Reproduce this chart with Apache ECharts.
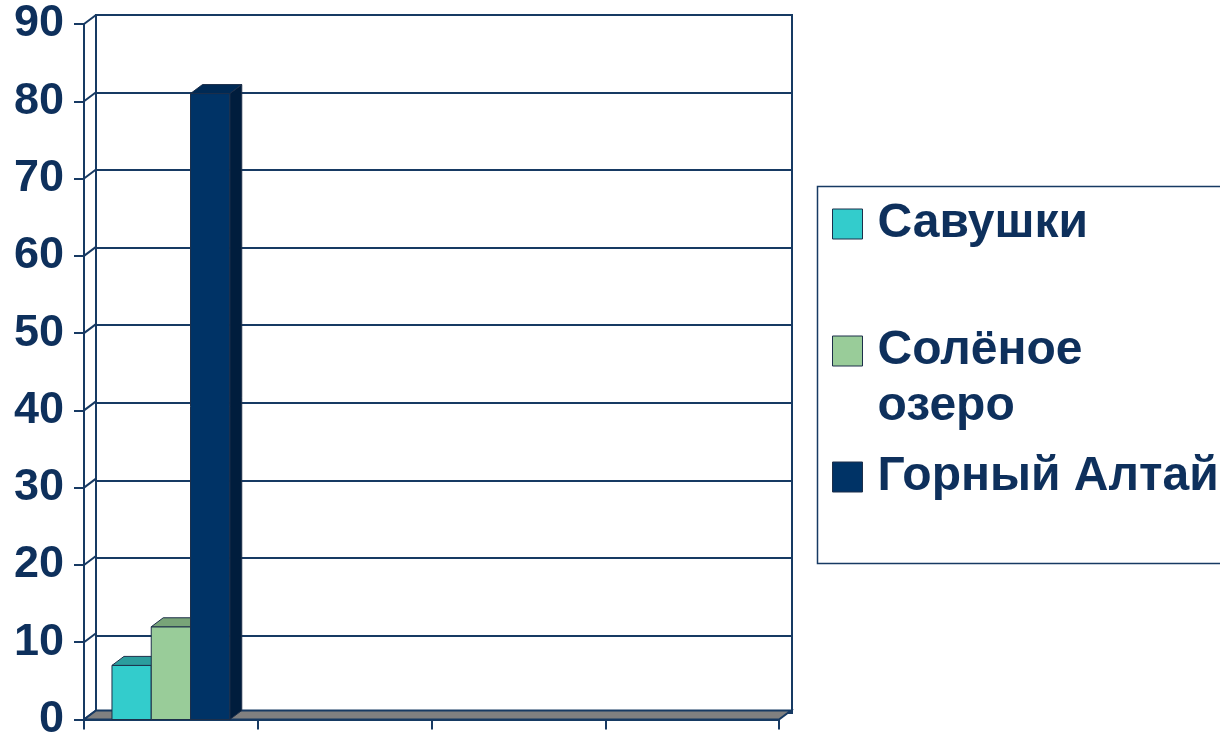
<!DOCTYPE html>
<html>
<head>
<meta charset="utf-8">
<script src="https://cdn.jsdelivr.net/npm/echarts@6/dist/echarts.min.js"></script>
<style>
html,body{margin:0;padding:0;background:#fff;}
#chart{width:1220px;height:742px;}
</style>
</head>
<body>
<div id="chart"></div>
<script>
// ---- data ----
const categories = ['1', '2', '3', '4'];
const seriesNames = ['Савушки', 'Солёное озеро', 'Горный Алтай'];
const savushkiValues = [7];
const solenoeValues = [12];
const gornyValues = [81];
const yTicks = [0, 10, 20, 30, 40, 50, 60, 70, 80, 90];

// ---- styles ----
const NAVY = '#173a63';
const TEXT = '#0e305c';
const EDGE = '#1d2f4a';
const DX = 12, DY = -9;       // depth offset of the walls
const BDX = 12, BDY = -9;     // depth offset of the bars
const BAR_FRAC = 0.226;
const COLORS = [
  { front: '#33cccc', top: '#2b9d9d', side: '#229090' },
  { front: '#99cc99', top: '#78a478', side: '#6a966a' },
  { front: '#003366', top: '#002a55', side: '#001d3d' }
];

function barRender(sIdx) {
  return function (params, api) {
    const cat = api.value(0), val = api.value(1);
    if (val == null || isNaN(val)) return null;
    const band = api.size([1, 0])[0];
    const w = band * BAR_FRAC;
    const p = api.coord([cat, val]);
    const b = api.coord([cat, 0]);
    const x = p[0] + (sIdx - 1) * w - w / 2;
    const top = p[1], base = b[1];
    const c = COLORS[sIdx];
    return {
      type: 'group',
      children: [
        { type: 'polygon', shape: { points: [[x + w, top], [x + w + BDX, top + BDY], [x + w + BDX, base + BDY], [x + w, base]] },
          style: { fill: c.side, stroke: EDGE, lineWidth: 1 } },
        { type: 'rect', shape: { x: x, y: top, width: w, height: base - top },
          style: { fill: c.front, stroke: EDGE, lineWidth: 1 } },
        { type: 'polygon', shape: { points: [[x, top], [x + w, top], [x + w + BDX, top + BDY], [x + BDX, top + BDY]] },
          style: { fill: c.top, stroke: EDGE, lineWidth: 1 } }
      ]
    };
  };
}

const valueLists = [savushkiValues, solenoeValues, gornyValues];
const barSeries = seriesNames.map(function (name, i) {
  return {
    type: 'custom',
    name: name,
    xAxisIndex: 0, yAxisIndex: 0,
    z: 5,
    itemStyle: { color: COLORS[i].front, borderColor: EDGE, borderWidth: 1 },
    renderItem: barRender(i),
    data: valueLists[i].map(function (v, k) { return [k, v]; })
  };
});

const legendFont = { fontFamily: 'Liberation Sans, Arial, sans-serif', fontWeight: 'bold', fontSize: 48, color: TEXT, lineHeight: 56, padding: [0, 0, 0, 10] };
function legendAt(idx, top, formatter) {
  const l = { data: [seriesNames[idx]], orient: 'vertical', left: 832, top: top, padding: 0,
    icon: 'rect', itemWidth: 30, itemHeight: 30,
    itemStyle: { borderColor: EDGE, borderWidth: 1 },
    textStyle: legendFont };
  if (formatter) l.formatter = formatter;
  return l;
}

const option = {
  animation: false,
  backgroundColor: '#ffffff',
  grid: [
    { left: 84, top: 24, width: 695, height: 698 },
    { left: 96, top: 15, width: 696, height: 698, show: true, borderColor: NAVY, borderWidth: 2, backgroundColor: 'transparent' }
  ],
  xAxis: [
    { type: 'category', gridIndex: 0, data: categories,
      axisLine: { show: true, lineStyle: { color: NAVY, width: 2 } },
      axisTick: { show: true, length: 10, lineStyle: { color: NAVY, width: 2 } },
      axisLabel: { show: false }, splitLine: { show: false } },
    { type: 'category', gridIndex: 1, data: categories, show: false }
  ],
  yAxis: [
    { type: 'value', gridIndex: 0, min: 0, max: 90, interval: 10,
      axisLine: { show: true, lineStyle: { color: NAVY, width: 2 } },
      axisTick: { show: true, length: 10, lineStyle: { color: NAVY, width: 2 } },
      axisLabel: { margin: 20, color: TEXT, fontSize: 45, fontWeight: 'bold', fontFamily: 'Liberation Sans, Arial, sans-serif', padding: [10, 0, 0, 0] },
      splitLine: { show: false } },
    { type: 'value', gridIndex: 1, min: 0, max: 90, interval: 10,
      axisLine: { show: false }, axisTick: { show: false }, axisLabel: { show: false },
      splitLine: { show: true, lineStyle: { color: NAVY, width: 2 } } }
  ],
  legend: [
    legendAt(0, 196),
    legendAt(1, 267, function (n) { return '\n' + n.replace(' ', '\n'); }),
    legendAt(2, 449)
  ],
  graphic: [
    { type: 'rect', left: 815, top: 184, shape: { width: 430, height: 377 },
      style: { fill: 'none', stroke: NAVY, lineWidth: 1.5 }, z: 0 }
  ],
  series: [
    // side wall gridlines (front axis to back wall)
    { type: 'custom', xAxisIndex: 0, yAxisIndex: 0, z: 1, silent: true,
      renderItem: function (params, api) {
        const cs = params.coordSys;
        const p = api.coord([0, api.value(1)]);
        return { type: 'line', shape: { x1: cs.x, y1: p[1], x2: cs.x + DX, y2: p[1] + DY },
          style: { stroke: NAVY, lineWidth: 2 } };
      },
      data: yTicks.map(function (v) { return [0, v]; }) },
    // floor
    { type: 'custom', xAxisIndex: 0, yAxisIndex: 0, z: 2, silent: true,
      renderItem: function (params, api) {
        const cs = params.coordSys;
        const y0 = api.coord([0, 0])[1];
        const x0 = cs.x, x1 = cs.x + cs.width;
        return { type: 'polygon', shape: { points: [[x0, y0], [x1, y0], [x1 + DX, y0 + DY], [x0 + DX, y0 + DY]] },
          style: { fill: '#808080', stroke: NAVY, lineWidth: 2 } };
      },
      data: [[0, 0]] }
  ].concat(barSeries)
};

const chart = echarts.init(document.getElementById('chart'), null, { renderer: 'canvas' });
chart.setOption(option);
</script>
</body>
</html>
